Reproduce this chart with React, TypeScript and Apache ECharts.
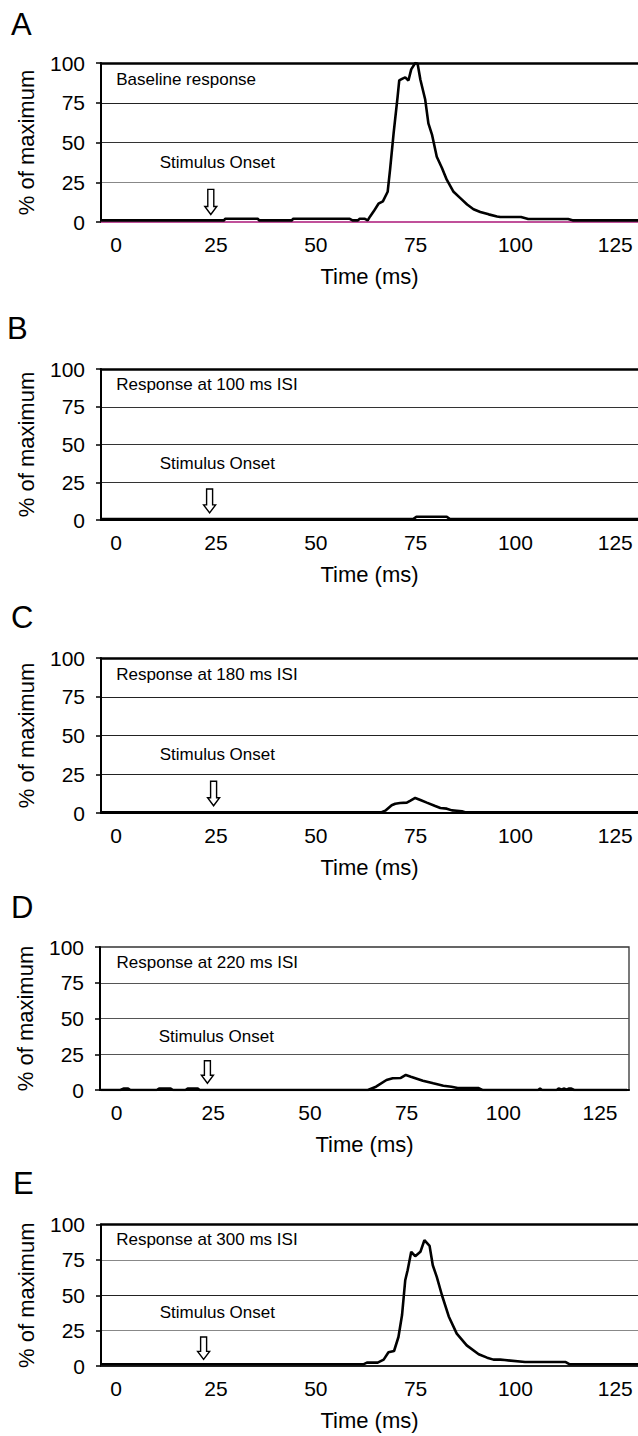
import React, { useEffect, useRef } from "react";
import * as echarts from "echarts";

const FONT = '"Liberation Sans", Arial, Helvetica, sans-serif';

// ---- texts ----
const panelLetters = ["A", "B", "C", "D", "E"];
const panelTitles = [
  "Baseline response",
  "Response at 100 ms ISI",
  "Response at 180 ms ISI",
  "Response at 220 ms ISI",
  "Response at 300 ms ISI",
];
const onsetLabel = "Stimulus Onset";
const xAxisTitle = "Time (ms)";
const yAxisTitle = "% of maximum";
const xTickValues = [0, 25, 50, 75, 100, 125];
const yTickValues = [0, 25, 50, 75, 100];

// ---- data (time in ms, response in % of maximum) ----
const timeA = [-4, 27, 27.3, 35.5, 35.8, 44, 44.3, 58.5, 59.2, 60.5, 61, 62.3, 63, 63.6, 64.5, 65.7, 66.8, 68, 68.6, 69.5, 70.5, 70.9, 71.6, 72.4, 73.2, 73.9, 74.9, 75.5, 76.2, 77.4, 78.2, 79.1, 80.3, 81.6, 82.8, 84.5, 86.2, 87.9, 89.5, 91.2, 93.3, 95.4, 96.2, 101.4, 103.2, 113.2, 114.5, 131];
const respA = [1, 1, 2, 2, 1, 1, 2, 2, 1, 1, 2, 2, 1, 3.5, 6.7, 11.5, 13, 19, 33, 56, 79, 89, 90, 91, 89, 96, 100, 99.5, 89.5, 77, 62, 55, 41, 34, 26.6, 19, 15, 11, 8, 6.3, 4.8, 3.5, 3.1, 3.1, 1.9, 1.9, 1, 1];

const timeB = [-4, 74.4, 75.2, 82.8, 83.6, 131];
const respB = [0.6, 0.6, 2.2, 2.2, 0.6, 0.6];

const timeC = [-4, 66.5, 67.4, 69, 69.9, 71.1, 72.8, 73.6, 74.9, 76.2, 77.8, 79.9, 81.2, 82.8, 84.1, 85.3, 86.6, 87.4, 131];
const respC = [0.5, 0.5, 1.5, 5, 6, 6.5, 6.7, 7.8, 9.7, 8.4, 6.7, 4.5, 3.2, 2.8, 1.7, 1.5, 1.1, 0.5, 0.5];

const timeD = [-4, 1, 1.8, 3, 3.6, 10.4, 11, 14, 14.6, 17.8, 18.4, 21, 21.5, 65, 67.1, 69.8, 71.4, 73.5, 74.8, 76.1, 79.2, 81.9, 84.5, 86.6, 88.2, 93.5, 94.6, 109, 109.5, 110, 113.8, 114.3, 115, 115.6, 116.3, 116.9, 117.6, 118.3, 132];
const respD = [0, 0, 1, 1, 0, 0, 1, 1, 0, 0, 1, 1, 0, 0, 2.3, 7, 8.2, 8.4, 10.5, 9.3, 6.5, 4.7, 3, 2.3, 1.4, 1.4, 0, 0, 1, 0, 0, 1, 0.3, 1, 0.3, 1, 1, 0, 0];

const timeE = [-4, 61.9, 62.8, 65.5, 67, 68.2, 69.6, 70.7, 71.6, 72.4, 73, 73.9, 74.9, 76.2, 77.2, 78.5, 79.3, 80.3, 81.6, 83.3, 85.3, 87.8, 90.8, 92.9, 94.5, 96.2, 97.3, 102.4, 112.6, 113.6, 131];
const respE = [1.2, 1.2, 2.4, 2.4, 4.5, 9.7, 10.6, 20.5, 36, 60.6, 67.7, 80.7, 77.6, 80.7, 88.9, 84.9, 71.2, 63, 50, 35, 22.9, 14.6, 8.3, 5.9, 4.5, 4.5, 4.2, 2.8, 2.8, 1.2, 1.2];

const panelTimes = [timeA, timeB, timeC, timeD, timeE];
const panelResp = [respA, respB, respC, respD, respE];

// annotation anchors (data coordinates)
const onsetArrowX = [23.7, 23.4, 24.4, 23.5, 21.9];
const arrowTopY = 20.5;
const arrowTipY = 4.7;
const titleAnchor = [0, 89.5];
const onsetTextAnchor = [10.9, 37.5];

// ---- layout / style ----
const layout = [
  { top: 63, height: 159, left: 101, width: 537, xMin: -3.8, xMax: 130.7, frame: false, letterX: 11, letterY: 24, base: "#c0509a", split: ["#000", "#888", "#333", "#222", "rgba(0,0,0,0)"] },
  { top: 369, height: 151, left: 101, width: 537, xMin: -3.8, xMax: 130.7, frame: false, letterX: 7, letterY: 328, base: "#000", split: ["#000", "#333", "#333", "#333", "rgba(0,0,0,0)"] },
  { top: 658, height: 155, left: 101, width: 537, xMin: -3.8, xMax: 130.7, frame: false, letterX: 11, letterY: 617, base: "#000", split: ["#000", "#222", "#222", "#222", "rgba(0,0,0,0)"] },
  { top: 947, height: 143, left: 100, width: 529, xMin: -4.27, xMax: 132.5, frame: true, letterX: 11, letterY: 907, base: "#000", split: ["#000", "#555", "#555", "#555", "rgba(0,0,0,0)"] },
  { top: 1224.5, height: 141.5, left: 101, width: 537, xMin: -3.8, xMax: 130.7, frame: false, letterX: 13, letterY: 1183, base: "#222", split: ["#000", "#888", "#222", "#888", "rgba(0,0,0,0)"] },
];

export default function App() {
  const ref = useRef<HTMLDivElement>(null);

  useEffect(() => {
    if (!ref.current) return;
    const chart = echarts.init(ref.current, null, { renderer: "svg" });

    const grid = layout.map((l) => ({
      left: l.left,
      top: l.top,
      width: l.width,
      height: l.height,
      show: l.frame,
      borderColor: "#333",
      borderWidth: 1.3,
      backgroundColor: "transparent",
      containLabel: false,
    }));

    const bottomAxes = layout.map((l, i) => ({
      type: "value",
      gridIndex: i,
      position: "bottom",
      min: l.xMin,
      max: l.xMax,
      axisLine: { show: true, onZero: false, lineStyle: { color: l.base, width: 2 } },
      axisTick: { show: false },
      axisLabel: {
        customValues: xTickValues,
        color: "#000",
        fontSize: 21,
        fontFamily: FONT,
        margin: 12,
      },
      splitLine: { show: false },
      name: xAxisTitle,
      nameLocation: "middle",
      nameGap: 43,
      nameTextStyle: { color: "#000", fontSize: 22, fontFamily: FONT },
    }));

    const topAxes = layout.map((l, i) => ({
      type: "value",
      gridIndex: i,
      position: "top",
      min: l.xMin,
      max: l.xMax,
      show: !l.frame,
      axisLine: { show: true, onZero: false, lineStyle: { color: "#000", width: 2.5 } },
      axisTick: { show: false },
      axisLabel: { show: false },
      splitLine: { show: false },
    }));

    const yAxes = layout.map((l, i) => ({
      type: "value",
      gridIndex: i,
      position: "left",
      min: yTickValues[0],
      max: yTickValues[yTickValues.length - 1],
      interval: 25,
      axisLine: { show: true, onZero: false, lineStyle: { color: "#000", width: 2 } },
      axisTick: { show: true, length: 5, lineStyle: { color: "#000", width: 1.5 } },
      axisLabel: { color: "#000", fontSize: 21, fontFamily: FONT, margin: 16 },
      splitLine: { show: true, lineStyle: { color: l.split, width: 1 } },
      name: yAxisTitle,
      nameLocation: "middle",
      nameGap: 64,
      nameRotate: 90,
      nameTextStyle: { color: "#000", fontSize: 22, fontFamily: FONT },
    }));

    const series = panelTimes.map((times, i) => ({
      type: "line",
      xAxisIndex: i,
      yAxisIndex: i,
      data: times.map((t, k) => [t, panelResp[i][k]]),
      showSymbol: false,
      symbol: "none",
      silent: true,
      clip: true,
      z: 3,
      lineStyle: { color: "#000", width: 2.6 },
    }));

    chart.setOption({
      animation: false,
      backgroundColor: "#fff",
      grid,
      xAxis: [...bottomAxes, ...topAxes],
      yAxis: yAxes,
      series,
    });

    const graphics: any[] = [];
    layout.forEach((l, i) => {
      graphics.push({
        type: "text",
        x: l.letterX,
        y: l.letterY,
        style: { text: panelLetters[i], fill: "#000", fontSize: 31, fontFamily: FONT, align: "left", verticalAlign: "middle" },
      });
      const tp = chart.convertToPixel({ seriesIndex: i }, titleAnchor) as number[];
      graphics.push({
        type: "text",
        x: tp[0],
        y: tp[1],
        style: { text: panelTitles[i], fill: "#000", fontSize: 17, fontFamily: FONT, align: "left", verticalAlign: "middle" },
      });
      const op = chart.convertToPixel({ seriesIndex: i }, onsetTextAnchor) as number[];
      graphics.push({
        type: "text",
        x: op[0],
        y: op[1],
        style: { text: onsetLabel, fill: "#000", fontSize: 17, fontFamily: FONT, align: "left", verticalAlign: "middle" },
      });
      const top = chart.convertToPixel({ seriesIndex: i }, [onsetArrowX[i], arrowTopY]) as number[];
      const tip = chart.convertToPixel({ seriesIndex: i }, [onsetArrowX[i], arrowTipY]) as number[];
      const cx = tip[0];
      const hh = 8; // head height
      const sw = 3; // half shaft width
      const hw = 6; // half head width
      graphics.push({
        type: "polygon",
        shape: {
          points: [
            [cx - sw, top[1]],
            [cx + sw, top[1]],
            [cx + sw, tip[1] - hh],
            [cx + hw, tip[1] - hh],
            [cx, tip[1]],
            [cx - hw, tip[1] - hh],
            [cx - sw, tip[1] - hh],
          ],
        },
        style: { fill: "#fff", stroke: "#000", lineWidth: 1.4 },
        z: 10,
      });
    });

    chart.setOption({ graphic: graphics });

    return () => chart.dispose();
  }, []);

  return (
    <div
      ref={ref}
      style={{ position: "absolute", left: 0, top: 0, width: 638, height: 1436, background: "#fff" }}
    />
  );
}
